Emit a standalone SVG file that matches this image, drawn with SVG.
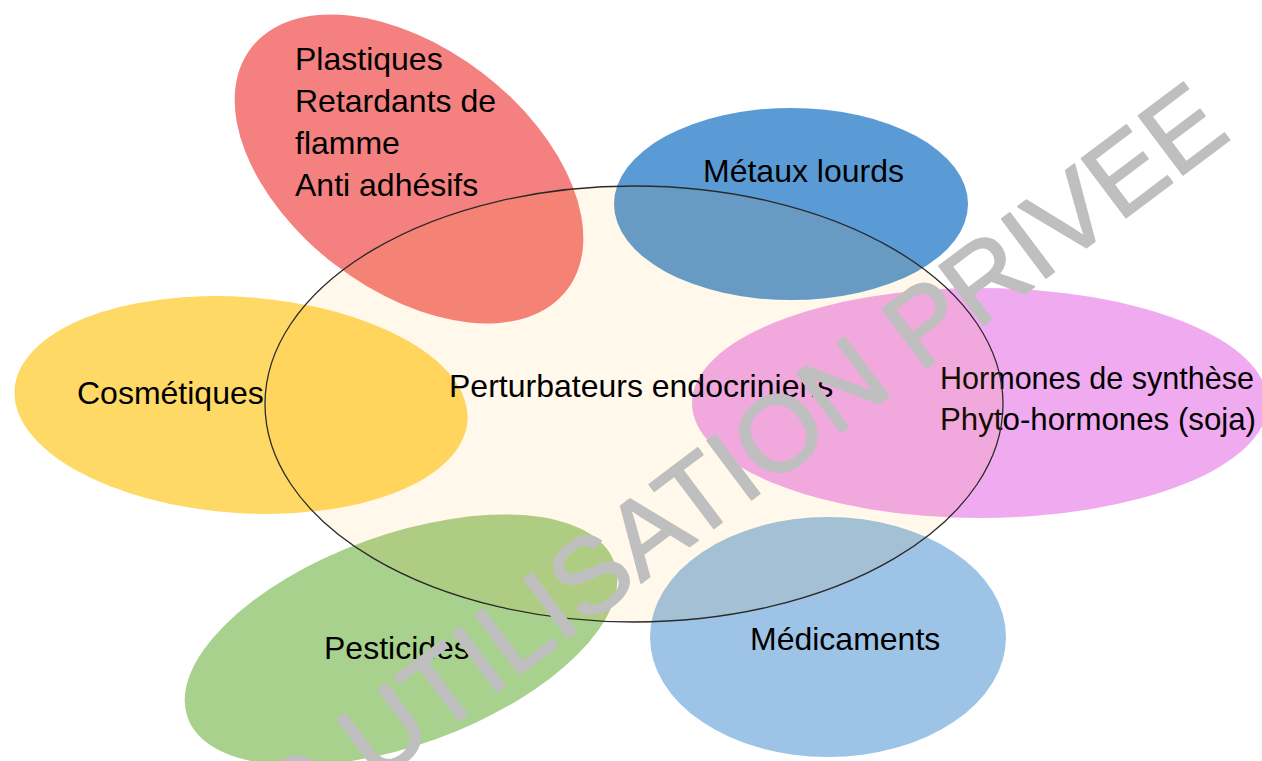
<svg xmlns="http://www.w3.org/2000/svg" width="1262" height="761" viewBox="0 0 1262 761">
<style>
.lbl{font-family:"Liberation Sans",Arial,sans-serif;font-size:32px;fill:#000}
.wm{font-family:"Liberation Sans",Arial,sans-serif;font-size:107px;fill:#bfbfbf;stroke:#bfbfbf;stroke-width:2;stroke-linejoin:round}
</style>
<rect x="0" y="0" width="1262" height="761" fill="#ffffff"/>
<g id="connectors"></g>
<g id="plastiques">
<ellipse cx="409" cy="169" rx="199" ry="121" transform="rotate(37.4 409 169)" fill="#f48080"/>
<text class="lbl" x="295" y="70">Plastiques</text>
<text class="lbl" x="295" y="112">Retardants de</text>
<text class="lbl" x="295" y="154">flamme</text>
<text class="lbl" x="295" y="196">Anti adhésifs</text>
</g>
<g id="metaux">
<ellipse cx="791" cy="204" rx="177" ry="96" fill="#5b9bd5"/>
<text class="lbl" x="703" y="182">Métaux lourds</text>
</g>
<g id="cosmetiques">
<ellipse cx="241" cy="405" rx="227" ry="108" transform="rotate(4 241 405)" fill="#ffd966"/>
<text class="lbl" x="77" y="404">Cosmétiques</text>
</g>
<g id="hormones">
<ellipse cx="980" cy="403" rx="288" ry="115" fill="#f0aaf0"/>
<text class="lbl" x="940" y="389" textLength="314" lengthAdjust="spacingAndGlyphs">Hormones de synthèse</text>
<text class="lbl" x="940" y="430" textLength="316" lengthAdjust="spacingAndGlyphs">Phyto-hormones (soja)</text>
</g>
<g id="medicaments">
<ellipse cx="828" cy="637" rx="178" ry="120" fill="#9dc3e6"/>
<text class="lbl" x="750" y="650">Médicaments</text>
</g>
<g id="pesticides">
<ellipse cx="401" cy="640" rx="227" ry="105" transform="rotate(-20 401 640)" fill="#a9d18e"/>
<text class="lbl" x="324" y="659">Pesticides</text>
</g>
<g id="perturbateurs">
<ellipse cx="634" cy="404" rx="369" ry="218" fill="#ffa500" fill-opacity="0.08" stroke="#2a2a2a" stroke-width="1.3"/>
<text class="lbl" x="449" y="397">Perturbateurs endocriniens</text>
</g>
<g id="watermark">
<text class="wm" transform="translate(289.6 847.8) rotate(-37)">R UTILISATION PRIVEE</text>
</g>
</svg>
